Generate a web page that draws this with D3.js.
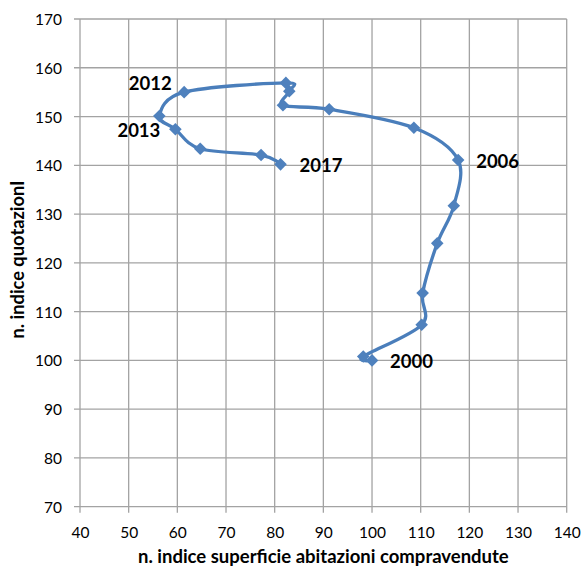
<!DOCTYPE html>
<html>
<head>
<meta charset="utf-8">
<script src="https://cdn.jsdelivr.net/npm/d3@7"></script>
<style>
  html, body { margin: 0; padding: 0; background: #fff; }
  svg { display: block; font-family: Lato, "Open Sans", sans-serif; }
</style>
</head>
<body>
<svg id="chart" width="581" height="568"></svg>
<script>
// Years of the series, 2000–2017
const years = [2000, 2001, 2002, 2003, 2004, 2005, 2006, 2007, 2008,
               2009, 2010, 2011, 2012, 2013, 2014, 2015, 2016, 2017];
// Index of the surface of dwellings sold (x)
const superficie = [100.0, 98.2, 110.2, 110.4, 113.4, 116.8, 117.7, 108.6, 91.2,
                    81.7, 83.0, 82.3, 61.4, 56.3, 59.6, 64.7, 77.2, 81.2];
// Price quotation index (y)
const quotazioni = [100.0, 100.8, 107.3, 113.8, 124.0, 131.7, 141.1, 147.7, 151.5,
                    152.3, 155.2, 156.9, 155.0, 150.1, 147.4, 143.4, 142.1, 140.2];
// Years that carry a label
const labelledYears = [2000, 2006, 2012, 2013, 2017];
// Axis ticks
const xTicks = [40, 50, 60, 70, 80, 90, 100, 110, 120, 130, 140];
const yTicks = [70, 80, 90, 100, 110, 120, 130, 140, 150, 160, 170];

const xTitle = "n. indice superficie abitazioni compravendute";
const yTitle = "n. indice quotazionI";

const svg = d3.select("#chart");
const plotLeft = 80, plotRight = 566.7, plotTop = 19, plotBottom = 506.7;

const x = d3.scaleLinear().domain([40, 140]).range([plotLeft, plotRight]);
const y = d3.scaleLinear().domain([70, 170]).range([plotBottom, plotTop]);

const gridColor = "#a3a3a3";
const blue = "#4a7ebb";

// Grid
const grid = svg.append("g");
grid.selectAll("line.v").data(xTicks).join("line")
  .attr("class", "v")
  .attr("x1", d => x(d)).attr("x2", d => x(d))
  .attr("y1", plotTop).attr("y2", plotBottom + 6)
  .attr("stroke", gridColor).attr("stroke-width", 1.3);
grid.selectAll("line.h").data(yTicks).join("line")
  .attr("class", "h")
  .attr("x1", plotLeft - 6).attr("x2", plotRight)
  .attr("y1", d => y(d)).attr("y2", d => y(d))
  .attr("stroke", gridColor).attr("stroke-width", 1.3);

// Axes labels
const xAxis = d3.axisBottom(x).tickValues(xTicks).tickSize(0).tickPadding(0);
const gx = svg.append("g").attr("transform", `translate(0,${plotBottom})`).call(xAxis);
gx.select(".domain").remove();
gx.selectAll("text")
  .attr("y", 31).attr("dy", 0)
  .attr("font-size", "15.5px").attr("font-family", "Lato, sans-serif")
  .attr("fill", "#000");

const yAxis = d3.axisLeft(y).tickValues(yTicks).tickSize(0).tickPadding(0);
const gy = svg.append("g").attr("transform", `translate(${plotLeft},0)`).call(yAxis);
gy.select(".domain").remove();
gy.selectAll("text")
  .attr("x", -18).attr("dy", "0.36em")
  .attr("font-size", "15.5px").attr("font-family", "Lato, sans-serif")
  .attr("fill", "#000");

// Axis titles
svg.append("text")
  .attr("x", (plotLeft + plotRight) / 2).attr("y", 563)
  .attr("text-anchor", "middle")
  .attr("font-weight", "bold").attr("font-size", "18.5px")
  .text(xTitle);
svg.append("text")
  .attr("transform", `translate(23.5,259.5) rotate(-90)`)
  .attr("text-anchor", "middle")
  .attr("font-weight", "bold").attr("font-size", "18.3px")
  .text(yTitle);

// Series
const pts = years.map((yr, i) => ({ year: yr, sx: superficie[i], qy: quotazioni[i] }));

const line = d3.line()
  .x(d => x(d.sx)).y(d => y(d.qy))
  .curve(d3.curveCardinal.tension(0));

svg.append("path")
  .datum(pts)
  .attr("d", line)
  .attr("fill", "none")
  .attr("stroke", blue)
  .attr("stroke-width", 3.3)
  .attr("stroke-linejoin", "round")
  .attr("stroke-linecap", "round");

const diamond = "M0,-6.3L6.3,0L0,6.3L-6.3,0Z";
svg.append("g").selectAll("path").data(pts).join("path")
  .attr("transform", d => `translate(${x(d.sx)},${y(d.qy)})`)
  .attr("d", diamond)
  .attr("fill", "#4f81bd");

// Year labels, placed beside their markers
const labelPlacement = {
  2000: { dx: 18, dy: 1, anchor: "start" },
  2006: { dx: 18, dy: 1, anchor: "start" },
  2017: { dx: 19, dy: 1.5, anchor: "start" },
  2012: { dx: -12.5, dy: -9, anchor: "end" },
  2013: { dx: 1, dy: 14, anchor: "end" }
};
svg.append("g").selectAll("text")
  .data(pts.filter(d => labelledYears.includes(d.year)))
  .join("text")
  .attr("x", d => x(d.sx) + labelPlacement[d.year].dx)
  .attr("y", d => y(d.qy) + labelPlacement[d.year].dy)
  .attr("dy", "0.36em")
  .attr("text-anchor", d => labelPlacement[d.year].anchor)
  .attr("font-weight", "bold")
  .attr("font-size", "18.5px")
  .attr("fill", "#000")
  .text(d => d.year);
</script>
</body>
</html>
